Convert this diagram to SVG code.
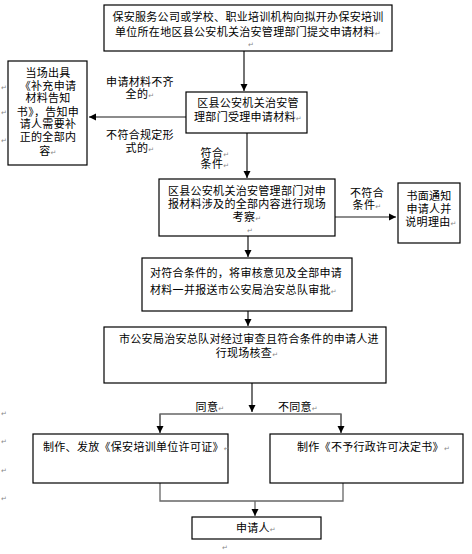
<svg xmlns="http://www.w3.org/2000/svg" width="472" height="554" viewBox="0 0 472 554">
<defs>
<style>
.box{fill:#fff;stroke:#000;stroke-width:1.2}
.t{font-family:"Liberation Sans","Noto Sans CJK SC",sans-serif;font-size:11px;fill:#000;letter-spacing:0.3px}
.m{text-anchor:middle}
.pm{font-family:"DejaVu Sans","Noto Sans CJK SC",sans-serif;font-size:7px;fill:#888}
.ln{fill:none;stroke:#000;stroke-width:1.1}
.lg{fill:none;stroke:#666;stroke-width:1.3}
</style>
<marker id="ah" markerWidth="8" markerHeight="8" refX="7" refY="4" orient="auto" markerUnits="userSpaceOnUse">
<path d="M0,0.5 L7,4 L0,7.5 Z" fill="#000"/>
</marker>
</defs>
<rect width="472" height="554" fill="#fff"/>

<g id="connectors">
<line class="ln" x1="244" y1="51" x2="244" y2="91" marker-end="url(#ah)"/>
<line class="lg" x1="186" y1="117" x2="89" y2="117" marker-end="url(#ah)"/>
<line class="ln" x1="247" y1="133" x2="247" y2="178" marker-end="url(#ah)"/>
<line class="lg" x1="335" y1="217" x2="396" y2="217" marker-end="url(#ah)"/>
<line class="ln" x1="248" y1="236" x2="248" y2="257" marker-end="url(#ah)"/>
<line class="ln" x1="248" y1="311" x2="248" y2="326" marker-end="url(#ah)"/>
<line class="ln" x1="252" y1="383" x2="252" y2="412" marker-end="url(#ah)"/>
<polyline class="lg" points="160,433 160,414 341,414 341,433"/>
<line class="lg" x1="160" y1="414" x2="160" y2="433" marker-end="url(#ah)"/>
<line class="lg" x1="341" y1="414" x2="341" y2="433" marker-end="url(#ah)"/>
<polyline class="lg" points="160,483 160,501 343,501 343,483"/>
<line class="lg" x1="255" y1="501" x2="255" y2="516" marker-end="url(#ah)"/>
<text class="t m" x="140" y="86">申请材料不齐</text>
<text class="t m" x="140" y="98">全的<tspan class="pm">↵</tspan></text>
<text class="t m" x="140" y="139">不符合规定形</text>
<text class="t m" x="140" y="152">式的<tspan class="pm">↵</tspan></text>
<text class="t m" x="215" y="157">符合<tspan class="pm">↵</tspan></text>
<text class="t m" x="215" y="168">条件<tspan class="pm">↵</tspan></text>
<text class="t m" x="367" y="197">不符合</text>
<text class="t m" x="367" y="209">条件<tspan class="pm">↵</tspan></text>
<text class="t m" x="210" y="411">同意<tspan class="pm">↵</tspan></text>
<text class="t m" x="298" y="411">不同意<tspan class="pm">↵</tspan></text>
</g>

<g id="n1">
<rect class="box" x="104" y="5" width="288" height="46"/>
<text class="t m" x="248" y="21">保安服务公司或学校、职业培训机构向拟开办保安培训</text>
<text class="t m" x="248" y="36">单位所在地区县公安机关治安管理部门提交申请材料<tspan class="pm">↵</tspan></text>
<text class="pm m" x="251" y="47">↵</text>
</g>

<g id="n2">
<rect class="box" x="186" y="92" width="121" height="41"/>
<text class="t m" x="248" y="107">区县公安机关治安管</text>
<text class="t m" x="248" y="121">理部门受理申请材料<tspan class="pm">↵</tspan></text>
</g>

<g id="n3">
<rect class="box" x="8" y="61" width="79" height="104"/>
<text class="t m" x="48" y="77">当场出具</text>
<text class="t m" x="48" y="90">《补充申请</text>
<text class="t m" x="48" y="102">材料告知</text>
<text class="t m" x="48" y="116">书》，告知申</text>
<text class="t m" x="48" y="128">请人需要补</text>
<text class="t m" x="48" y="141">正的全部内</text>
<text class="t m" x="48" y="155">容<tspan class="pm">↵</tspan></text>
</g>

<g id="n4">
<rect class="box" x="159" y="179" width="176" height="57"/>
<text class="t m" x="247" y="195">区县公安机关治安管理部门对申</text>
<text class="t m" x="247" y="208">报材料涉及的全部内容进行现场</text>
<text class="t m" x="247" y="221">考察<tspan class="pm">↵</tspan></text>
<text class="pm m" x="250" y="233">↵</text>
</g>

<g id="n5">
<rect class="box" x="398" y="183" width="62" height="60"/>
<text class="t m" x="429" y="200">书面通知</text>
<text class="t m" x="429" y="213">申请人并</text>
<text class="t m" x="431" y="226">说明理由<tspan class="pm">↵</tspan></text>
</g>

<g id="n6">
<rect class="box" x="142" y="258" width="210" height="53"/>
<text class="t" x="150" y="277">对符合条件的，将审核意见及全部申请</text>
<text class="t" x="150" y="294">材料一并报送市公安局治安总队审批<tspan class="pm">↵</tspan></text>
</g>

<g id="n7">
<rect class="box" x="104" y="327" width="282" height="56"/>
<text class="t" x="119" y="343">市公安局治安总队对经过审查且符合条件的申请人进</text>
<text class="t m" x="247" y="357">行现场核查<tspan class="pm">↵</tspan></text>
</g>

<g id="n8">
<rect class="box" x="33" y="434" width="195" height="49"/>
<text class="t" x="43" y="451">制作、发放《保安培训单位许可证》<tspan class="pm">↵</tspan></text>
</g>

<g id="n9">
<rect class="box" x="270" y="434" width="193" height="49"/>
<text class="t" x="297" y="451">制作《不予行政许可决定书》<tspan class="pm">↵</tspan></text>
</g>

<g id="n10">
<rect class="box" x="192" y="517" width="129" height="22"/>
<text class="t m" x="256" y="532">申请人<tspan class="pm">↵</tspan></text>
<text class="pm m" x="225" y="550">↵</text>
</g>

<g id="marks">
<text class="pm" x="1" y="90">↵</text>
<text class="pm" x="1" y="115">↵</text>
<text class="pm" x="1" y="143">↵</text>
<text class="pm" x="1" y="416">↵</text>
<text class="pm" x="1" y="444">↵</text>
<text class="pm" x="1" y="473">↵</text>
<text class="pm" x="1" y="501">↵</text>
</g>
</svg>
